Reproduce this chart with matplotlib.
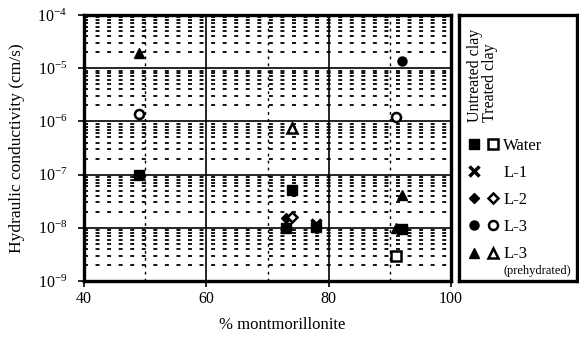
import numpy as np
import matplotlib
matplotlib.use("Agg")
import matplotlib.pyplot as plt
from matplotlib.ticker import FixedLocator, FuncFormatter, LogLocator, NullFormatter
from matplotlib.lines import Line2D
from matplotlib.legend_handler import HandlerTuple

plt.rcParams['font.family'] = ['Liberation Serif', 'DejaVu Serif']
plt.rcParams['mathtext.fontset'] = 'custom'
plt.rcParams['mathtext.rm'] = 'Liberation Serif'
plt.rcParams['axes.unicode_minus'] = False

# ---- data ----
water_untreated_x = [49, 74, 73, 78, 92]
water_untreated_y = [1.0e-7, 5.2e-8, 1.0e-8, 1.05e-8, 9.3e-9]
water_treated_x = [91]
water_treated_y = [3.0e-9]
l1_untreated_x = [78]
l1_untreated_y = [1.2e-8]
l2_untreated_x = [73]
l2_untreated_y = [1.5e-8]
l2_treated_x = [74]
l2_treated_y = [1.6e-8]
l3_untreated_x = [92]
l3_untreated_y = [1.35e-5]
l3_treated_x = [49, 91]
l3_treated_y = [1.4e-6, 1.2e-6]
l3p_untreated_x = [49, 92, 91]
l3p_untreated_y = [1.9e-5, 4.2e-8, 1.0e-8]
l3p_treated_x = [74]
l3p_treated_y = [7.5e-7]

x_ticks = [40, 60, 80, 100]
x_minor = [50, 70, 90]
legend_labels = ['Water', 'L-1', 'L-2', 'L-3', 'L-3']

W, H = 579, 337
fig = plt.figure(figsize=(W / 100, H / 100), dpi=100)
ax = fig.add_axes([84 / W, 1 - 281 / H, (451 - 84) / W, (281 - 15) / H])

ax.set_yscale('log')
ax.set_xlim(40, 100)
ax.set_ylim(1e-9, 1e-4)

# grid
ax.set_xticks(x_ticks)
ax.xaxis.set_minor_locator(FixedLocator(x_minor))
ax.xaxis.set_minor_formatter(NullFormatter())
ax.yaxis.set_major_locator(LogLocator(base=10, numticks=10))
ax.yaxis.set_minor_locator(LogLocator(base=10, subs=np.arange(2, 10), numticks=20))
ax.yaxis.set_minor_formatter(NullFormatter())
ax.yaxis.set_major_formatter(FuncFormatter(lambda v, p: r'$\mathregular{10^{%d}}$' % int(round(np.log10(v)))))

ax.grid(True, which='major', axis='both', color='black', lw=1.2, ls='-')
ax.grid(True, which='minor', axis='y', color='black', lw=1.3, ls=(0, (2.2, 4.2)))
ax.grid(True, which='minor', axis='x', color='black', lw=1.0, ls=(0, (2, 3)))
ax.set_axisbelow(True)

ax.tick_params(axis='both', which='major', direction='out', length=4, width=1.2,
               labelsize=11.5)
ax.tick_params(axis='y', which='major', pad=8)
ax.tick_params(axis='x', which='major', pad=3)
ax.tick_params(axis='both', which='minor', length=0, labelbottom=False, labelleft=False)
for s in ax.spines.values():
    s.set_linewidth(2.4)

ms = 6.5
k = 'black'
ax.plot(water_untreated_x, water_untreated_y, 's', ms=ms, color=k, ls='none')
ax.plot(water_treated_x, water_treated_y, 's', ms=ms, mfc='white', mec=k, mew=1.8, ls='none')
ax.plot(l1_untreated_x, l1_untreated_y, 'x', ms=7, mew=2.5, color=k, ls='none')
ax.plot(l2_untreated_x, l2_untreated_y, 'D', ms=5.5, color=k, ls='none')
ax.plot(l2_treated_x, l2_treated_y, 'D', ms=5.5, mfc='white', mec=k, mew=1.8, ls='none')
ax.plot(l3_untreated_x, l3_untreated_y, 'o', ms=ms, color=k, ls='none')
ax.plot(l3_treated_x, l3_treated_y, 'o', ms=ms, mfc='white', mec=k, mew=1.8, ls='none')
ax.plot(l3p_untreated_x, l3p_untreated_y, '^', ms=7, color=k, ls='none')
ax.plot(l3p_treated_x, l3p_treated_y, '^', ms=7, mfc='white', mec=k, mew=1.8, ls='none')

ax.set_xlabel('% montmorillonite', fontsize=12)
ax.xaxis.set_label_coords(0.54, -0.135)
ax.set_ylabel('Hydraulic conductivity (cm/s)', fontsize=12.5)
ax.yaxis.set_label_coords(-0.16, 0.5)

# ---- legend panel ----
lax = fig.add_axes([459 / W, 1 - 281 / H, (577 - 459) / W, (281 - 15) / H])
lax.set_xticks([])
lax.set_yticks([])
for s in lax.spines.values():
    s.set_linewidth(2.4)
lax.text(0.135, 0.598, 'Untreated clay', rotation=90, ha='center', va='bottom',
         fontsize=11.5, transform=lax.transAxes)
lax.text(0.262, 0.598, 'Treated clay', rotation=90, ha='center', va='bottom',
         fontsize=11.5, transform=lax.transAxes)

def mk(m, filled, size=ms, mew=1.8):
    if filled:
        return Line2D([], [], marker=m, ls='none', color=k, ms=size, mew=mew if m == 'x' else 1)
    return Line2D([], [], marker=m, ls='none', mfc='white', mec=k, ms=size, mew=mew)

blank = Line2D([], [], ls='none', marker=None)
handles = [
    (mk('s', True), mk('s', False)),
    (mk('x', True, 7, 2.5), blank),
    (mk('D', True, 5.5), mk('D', False, 5.5)),
    (mk('o', True), mk('o', False)),
    (mk('^', True, 7), mk('^', False, 7)),
]
leg = lax.legend(handles, legend_labels, loc='upper left', bbox_to_anchor=(0.019, 0.551),
                 frameon=False, fontsize=12, handlelength=2.28, handletextpad=0.05,
                 labelspacing=0.67, borderaxespad=0.0, borderpad=0.2,
                 handler_map={tuple: HandlerTuple(ndivide=2, pad=0.0)})
lax.text(0.373, 0.038, '(prehydrated)', fontsize=9, ha='left', va='center',
         transform=lax.transAxes)

fig.savefig('out.png', dpi=100)
